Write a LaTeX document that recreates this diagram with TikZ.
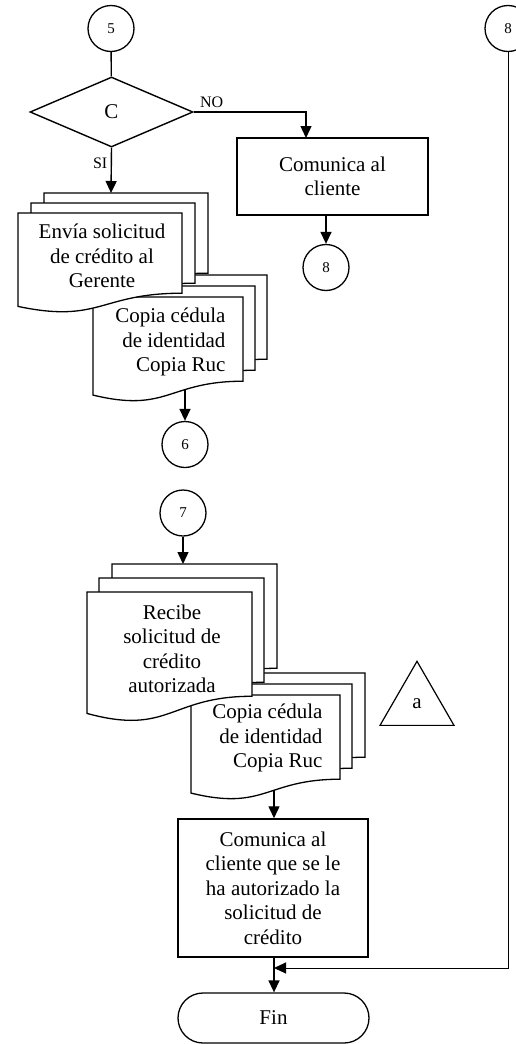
\documentclass[tikz,border=0pt]{standalone}
\usepackage{fontspec}
\setmainfont{Liberation Serif}
\usepackage{tikz}
\usetikzlibrary{positioning,arrows.meta,shapes,calc}

\newcommand{\sheet}[4]{%
  \draw[sheet] (#1,#2) -- ({#1+#3},#2) -- ({#1+#3},{#2+0.802*#4})
    .. controls ({#1+0.5*#3},{#2+0.802*#4}) and ({#1+0.5*#3},{#2+1.1075*#4})
    .. (#1,{#2+0.934*#4}) -- cycle;}

\begin{document}
\begin{tikzpicture}[
    x=1pt, y=-1pt,
    font=\fontsize{21}{24.5}\selectfont,
    conn/.style={draw, circle, minimum size=46pt, inner sep=0pt,
      line width=1.3pt, font=\fontsize{15}{18}\selectfont},
    dec/.style={draw, diamond, minimum width=163pt, minimum height=70pt,
      inner sep=0pt, line width=1.4pt},
    box/.style={draw, rectangle, align=center, inner sep=0pt,
      line width=1.5pt},
    term/.style={draw, rounded corners=25pt, minimum width=191pt,
      minimum height=50pt, line width=1.3pt},
    tri/.style={draw, regular polygon, regular polygon sides=3,
      minimum size=85.4pt, inner sep=0pt, line width=1.2pt},
    sheet/.style={draw, fill=white, line width=1.3pt},
    lbl/.style={font=\fontsize{16}{19}\selectfont},
    arr/.style={-{Triangle[length=12pt,width=11pt]}, line width=1.4pt},
    ln/.style={line width=1.4pt}
]
\useasboundingbox (0,0) rectangle (515,1044);
\node[conn] (c5) at (111,28.5) {5};
\node[conn] (c8r) at (508,28.5) {8};
\node[dec] (dia) at (111.5,112) {C};
\node[box, minimum width=191pt, minimum height=77pt] (com1) at (332.5,176.5)
  {Comunica al\\cliente};
\node[conn] (c8) at (326,267.5) {8};
% stacks
\sheet{117}{275}{150}{105}
\sheet{105}{286}{150}{105}
\sheet{93}{297}{150}{105}
\sheet{44}{193}{164}{100}
\sheet{31}{203}{164}{100}
\sheet{18}{213}{164}{100}
\node[align=center] (env) at (102,256) {Envía solicitud\\de crédito al\\Gerente};
\node[align=right, anchor=east] (cop1) at (229,342) {Copia cédula\\de identidad\\Copia Ruc};
\node[conn] (c6) at (185,444.5) {6};
\node[conn] (c7) at (183,513) {7};
\sheet{216}{673}{149}{105}
\sheet{203}{684}{149}{105}
\sheet{191}{695}{149}{105}
\sheet{112}{564}{165}{130}
\sheet{99}{578}{165}{130}
\sheet{87}{592}{165}{130}
\node[align=center] (rec) at (172,649) {Recibe\\solicitud de\\crédito\\autorizada};
\node[align=right, anchor=east] (cop2) at (326,738) {Copia cédula\\de identidad\\Copia Ruc};
\node[tri] (tria) at (417,704) {a};
\node[box, minimum width=190pt, minimum height=138pt] (com2) at (273,888)
  {Comunica al\\cliente que se le\\ha autorizado la\\solicitud de\\crédito};
\node[term] (fin) at (273.5,1018) {Fin};
\coordinate (s1) at (111,193);
\coordinate (s2) at (185,390);
\coordinate (s3) at (183,564);
\coordinate (s4) at (274,790);
\coordinate (join) at (274,968);
\draw[ln]  (c5) -- (dia);
\draw[arr] (dia.east) -| (306,138) node[pos=0.08, above, lbl] {NO};
\draw[arr] (c8.north |- com1.south) -- (c8);
\draw[arr] (dia.south) -- node[pos=0.35, left, lbl] {SI} (s1);
\draw[arr] (s2) -- (c6);
\draw[arr] (c7) -- (s3);
\draw[arr] (s4) -- (s4 |- com2.north);
\draw[arr] (join |- com2.south) -- (join |- fin.north);
\draw[arr, line width=1pt] (c8r.south) |- (join);
\end{tikzpicture}
\end{document}
